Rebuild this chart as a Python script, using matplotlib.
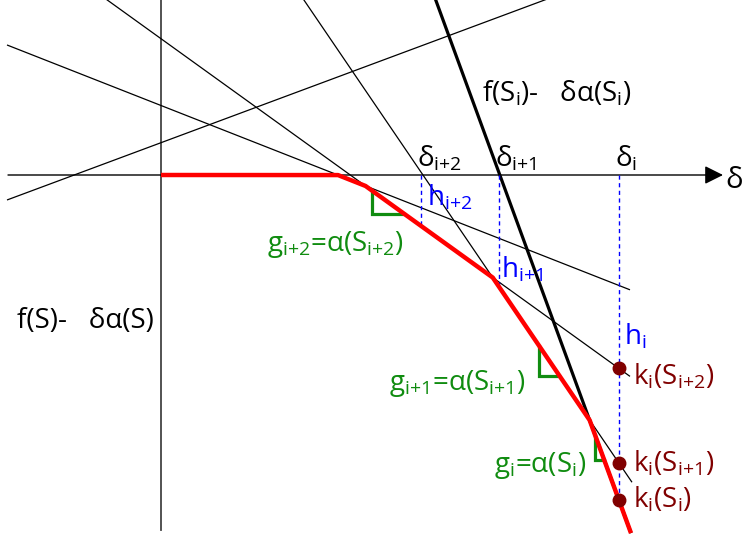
import numpy as np
import matplotlib
matplotlib.use("Agg")
import matplotlib.pyplot as plt

plt.rcParams['font.family'] = ['Open Sans', 'DejaVu Sans']

# lines f(S) - delta * a(S): intercept f and slope a (units: 100 px)
f_vals = [0.323, 0.695, 1.363, 3.851, 9.25]
a_vals = [-0.372, 0.393, 0.72, 1.47, 2.73]
line_ends = [6.4, 4.69, 4.69, 4.71, 4.70]
line_widths = [0.9, 0.9, 0.9, 0.9, 2.3]

# breakpoints delta_{i+2}, delta_{i+1}, delta_i
deltas = [2.595, 3.38, 4.58]
delta_labels = ["δ$_\\mathregular{i{+}2}$", "δ$_\\mathregular{i{+}1}$", "δ$_\\mathregular{i}$"]

# k_i(S) dots sit at delta_i on these lines
k_lines = [2, 3, 4]
k_labels = ["k$_\\mathregular{i}$(S$_\\mathregular{i{+}2}$)",
            "k$_\\mathregular{i}$(S$_\\mathregular{i{+}1}$)",
            "k$_\\mathregular{i}$(S$_\\mathregular{i}$)"]

# slope markers: line index, start delta, size
g_lines = [2, 3, 4]
g_start = [2.11, 3.78, 4.34]
g_size = [0.23, 0.30, 0.25]

X0, Y0 = 161, 175  # pixel position of the origin
FS = 20


def px(x, y):
    """pixel -> data coords"""
    return (x - X0) / 100.0, (Y0 - y) / 100.0


def line_y(i, d):
    return f_vals[i] - a_vals[i] * d


fig = plt.figure(figsize=(7.43, 5.37), dpi=100)
ax = fig.add_axes([0, 0, 1, 1])
ax.set_xlim(px(0, 0)[0], px(743, 0)[0])
ax.set_ylim(px(0, 537)[1], px(0, 0)[1])
ax.axis('off')

# axes
ax.plot([0, 0], [px(0, 0)[1], px(0, 530)[1]], color='#444444', lw=1.3)
ax.annotate("", xy=px(723, 175), xytext=px(8, 175),
            arrowprops=dict(arrowstyle='-|>', mutation_scale=28, lw=1.0,
                            color='black', shrinkA=0, shrinkB=0))
ax.text(*px(725, 181), "δ", fontsize=21, va='center', ha='left')

# family of lines
d_left = px(7, 0)[0]
for i in range(len(f_vals)):
    d = np.linspace(d_left, line_ends[i], 200)
    ax.plot(d, line_y(i, d), color='black', lw=line_widths[i], solid_capstyle='butt')

# lower envelope (red)
d = np.linspace(0, 4.70, 2000)
env = np.minimum(0, np.min([line_y(i, d) for i in range(1, len(f_vals))], axis=0))
ax.plot(d, env, color='#ff0000', lw=3.2, solid_capstyle='butt', zorder=5)


def envelope(x):
    return min(0, min(line_y(i, x) for i in range(1, len(f_vals))))


# dashed h lines and delta labels
h_labels = ["h$_\\mathregular{i{+}2}$", "h$_\\mathregular{i{+}1}$", "h$_\\mathregular{i}$"]
h_pos = [(427, 197), (501, 269), (624, 336)]
for dj, lab, hl, hp in zip(deltas, delta_labels, h_labels, h_pos):
    ax.plot([dj, dj], [0, envelope(dj)], color='#0000ff', lw=1.0, ls=(0, (3, 2.5)), zorder=3)
    ax.text(dj - 0.035, px(0, 158)[1], lab, fontsize=FS, va='center', ha='left')
    ax.text(*px(*hp), hl, fontsize=FS, va='center', ha='left', color='#0000ff', zorder=6)

# k dots
k_pos_y = [376, 463, 499]
for li, lab, ky in zip(k_lines, k_labels, k_pos_y):
    ax.plot(deltas[2], line_y(li, deltas[2]), 'o', color='#800000', ms=9, zorder=6)
    ax.text(px(633, 0)[0], px(0, ky)[1], lab, fontsize=FS, va='center', ha='left',
            color='#800000')

# green slope markers
green = '#108c10'
for li, x0, h in zip(g_lines, g_start, g_size):
    y0 = line_y(li, x0)
    ax.plot([x0, x0, x0 + h / a_vals[li]], [y0, y0 - h, y0 - h],
            color=green, lw=2.3, solid_joinstyle='miter', zorder=4)

g_texts = ["g$_\\mathregular{i{+}2}$=α(S$_\\mathregular{i{+}2}$)",
           "g$_\\mathregular{i{+}1}$=α(S$_\\mathregular{i{+}1}$)",
           "g$_\\mathregular{i}$=α(S$_\\mathregular{i}$)"]
g_text_pos = [(267, 245), (389, 384), (494, 466)]
for t, p in zip(g_texts, g_text_pos):
    ax.text(*px(*p), t, fontsize=FS, va='center', ha='left', color=green)

# line labels
ax.text(*px(17, 321), "f(S)-   δα(S)", fontsize=FS, va='center', ha='left')
ax.text(*px(482, 93), "f(S$_\\mathregular{i}$)-   δα(S$_\\mathregular{i}$)", fontsize=FS,
        va='center', ha='left')

fig.savefig("out.png", dpi=100)
